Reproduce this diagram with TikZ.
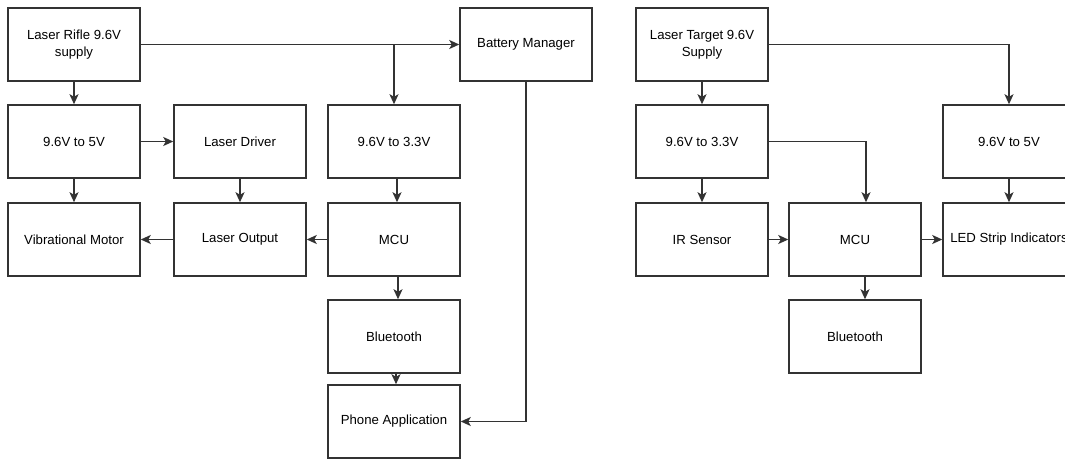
\documentclass[tikz,border=0pt]{standalone}
\usepackage{fontspec}
\setmainfont{Liberation Sans}
\usetikzlibrary{arrows.meta}
\begin{document}
\begin{tikzpicture}[x=1pt,y=-1pt,
  blk/.style={draw=black!80, line width=1.5pt, minimum width=132pt, minimum height=73pt,
    inner sep=0pt, align=center, font=\fontsize{13.2}{17}\selectfont},
  arr/.style={draw=black!80, line width=1.5pt, -{Stealth[length=10pt,width=9pt,inset=2.5pt]}}]
\useasboundingbox (0,0) rectangle (1065,460);
\clip (0,0) rectangle (1065,460);
\fill[white] (0,0) rectangle (1065,460);
% left diagram
\node[blk] (rifle) at (74,44.5) {Laser Rifle 9.6V\\supply};
\node[blk] (bm) at (526,44.5) {Battery Manager};
\node[blk] (c5) at (74,141.5) {9.6V to 5V};
\node[blk] (ld) at (240,141.5) {Laser Driver};
\node[blk] (c33) at (394,141.5) {9.6V to 3.3V};
\node[blk] (vm) at (74,239.5) {Vibrational Motor};
\node[blk] (lo) at (240,239.5) {Laser Output};
\node[blk] (mcu) at (394,239.5) {MCU};
\node[blk] (bt) at (394,336.5) {Bluetooth};
\node[blk] (pa) at (394,421.5) {Phone Application};
% right diagram
\node[blk] (lt) at (702,44.5) {Laser Target 9.6V\\Supply};
\node[blk] (c33r) at (702,141.5) {9.6V to 3.3V};
\node[blk] (c5r) at (1009,141.5) {9.6V to 5V};
\node[blk] (ir) at (702,239.5) {IR Sensor};
\node[blk] (mcur) at (855,239.5) {MCU};
\node[blk] (led) at (1009,239.5) {LED Strip Indicators};
\node[blk] (btr) at (855,336.5) {Bluetooth};
% left connectors
\draw[arr] (rifle.east) -- (bm.west);
\draw[arr] (rifle.east -| c33.north) -- (c33.north);
\draw[arr] (rifle.south) -- (c5.north);
\draw[arr] (c5.east) -- (ld.west);
\draw[arr] (c5.south) -- (vm.north);
\draw[arr] (ld.south) -- (lo.north);
\draw[arr] ([xshift=3pt]c33.south) -- ([xshift=3pt]mcu.north);
\draw[arr] (mcu.west) -- (lo.east);
\draw[arr] (lo.west) -- (vm.east);
\draw[arr] ([xshift=4pt]mcu.south) -- ([xshift=4pt]bt.north);
\draw[arr] ([xshift=2pt]bt.south) -- ([xshift=2pt]pa.north);
\draw[arr] (bm.south) |- (pa.east);
% right connectors
\draw[arr] (lt.east) -| (c5r.north);
\draw[arr] (lt.south) -- (c33r.north);
\draw[arr] (c33r.east) -| ([xshift=11pt]mcur.north);
\draw[arr] (c33r.south) -- (ir.north);
\draw[arr] (c5r.south) -- (led.north);
\draw[arr] (ir.east) -- (mcur.west);
\draw[arr] (mcur.east) -- (led.west);
\draw[arr] ([xshift=10pt]mcur.south) -- ([xshift=10pt]btr.north);
\end{tikzpicture}
\end{document}
